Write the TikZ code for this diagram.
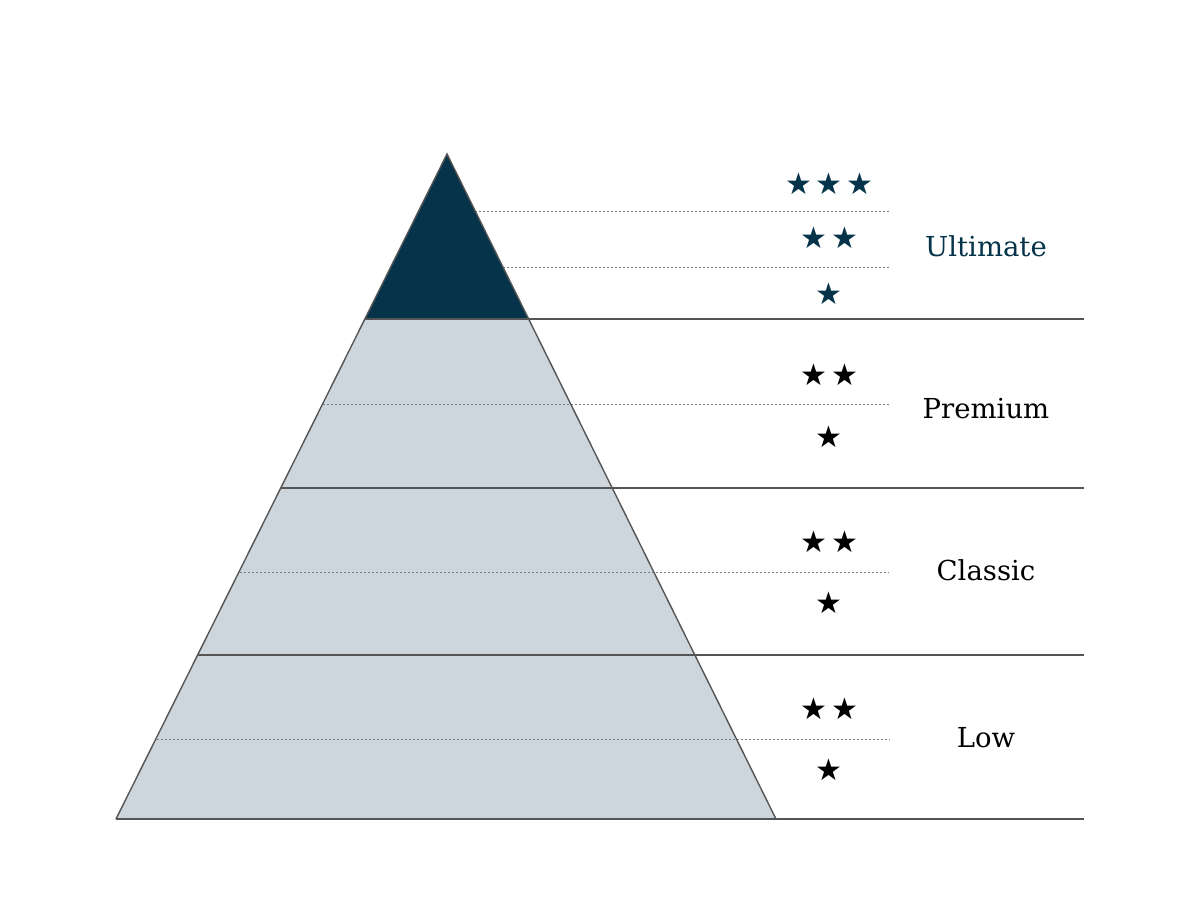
\documentclass[tikz,border=0pt]{standalone}
\usepackage{fontspec}
\setmainfont{DejaVu Serif}
\newfontfamily\symfont{DejaVu Sans}
\usetikzlibrary{calc}
\definecolor{navy}{HTML}{04334A}
\definecolor{tierfill}{HTML}{CDD6DC}
\definecolor{edgec}{HTML}{555555}
\definecolor{dotc}{HTML}{7A7A7A}
\begin{document}
\begin{tikzpicture}[x=1pt,y=-1pt,
  tierline/.style={draw=edgec,line width=2.4pt},
  dotline/.style={draw=dotc,line width=1pt,dash pattern=on 2pt off 2pt},
  sidec/.style={draw=edgec,line width=1.4pt,line join=miter},
  starmark/.style={inner sep=0pt,font=\symfont\fontsize{30}{30}\selectfont},
  tierlabel/.style={inner sep=0pt,font=\fontsize{27.5}{32}\selectfont}]
\useasboundingbox[fill=white] (0,0) rectangle (1200,900);
% pyramid corners
\coordinate (apex) at (447,154);
\coordinate (bl) at (116,819);
\coordinate (br) at (776,819);
\coordinate (l1) at (365.1,319);
\coordinate (r1) at (528.9,319);
% fills
\fill[tierfill] (bl) -- (br) -- (r1) -- (l1) -- cycle;
\fill[navy] (apex) -- (r1) -- (l1) -- cycle;
% dotted lines
\coordinate (d1a) at (475.3,211); \coordinate (d1b) at (889,211);
\coordinate (d2a) at (503.1,267); \coordinate (d2b) at (889,267);
\coordinate (d3a) at (322.9,404); \coordinate (d3b) at (889,404);
\coordinate (d4a) at (239.6,572); \coordinate (d4b) at (889,572);
\coordinate (d5a) at (156.7,739); \coordinate (d5b) at (889,739);
\draw[dotline] (d1a) -- (d1b);
\draw[dotline] (d2a) -- (d2b);
\draw[dotline] (d3a) -- (d3b);
\draw[dotline] (d4a) -- (d4b);
\draw[dotline] (d5a) -- (d5b);
% pyramid sides
\draw[sidec] (bl) -- (apex) -- (br);
% tier lines
\coordinate (t1b) at (1084,319);
\coordinate (t2a) at (281.3,488); \coordinate (t2b) at (1084,488);
\coordinate (t3a) at (198.4,655); \coordinate (t3b) at (1084,655);
\coordinate (t4b) at (1084,819);
\draw[tierline] (l1) -- (t1b);
\draw[tierline] (t2a) -- (t2b);
\draw[tierline] (t3a) -- (t3b);
\draw[tierline] (bl) -- (t4b);
% stars - Ultimate
\node[starmark,text=navy] (u3a) at (799,184) {★};
\node[starmark,text=navy] (u3b) at (829,184) {★};
\node[starmark,text=navy] (u3c) at (860,184) {★};
\node[starmark,text=navy] (u2a) at (814,238) {★};
\node[starmark,text=navy] (u2b) at (845,238) {★};
\node[starmark,text=navy] (u1a) at (829,294) {★};
% Premium
\node[starmark] (p2a) at (814,375) {★};
\node[starmark] (p2b) at (845,375) {★};
\node[starmark] (p1a) at (829,437) {★};
% Classic
\node[starmark] (c2a) at (814,542) {★};
\node[starmark] (c2b) at (845,542) {★};
\node[starmark] (c1a) at (829,603) {★};
% Low
\node[starmark] (w2a) at (814,709) {★};
\node[starmark] (w2b) at (845,709) {★};
\node[starmark] (w1a) at (829,770) {★};
% labels
\node[tierlabel,text=navy] (lu) at (986,246) {Ultimate};
\node[tierlabel] (lp) at (986,409) {Premium};
\node[tierlabel] (lc) at (986,570) {Classic};
\node[tierlabel] (ll) at (986,738) {Low};
\end{tikzpicture}
\end{document}
